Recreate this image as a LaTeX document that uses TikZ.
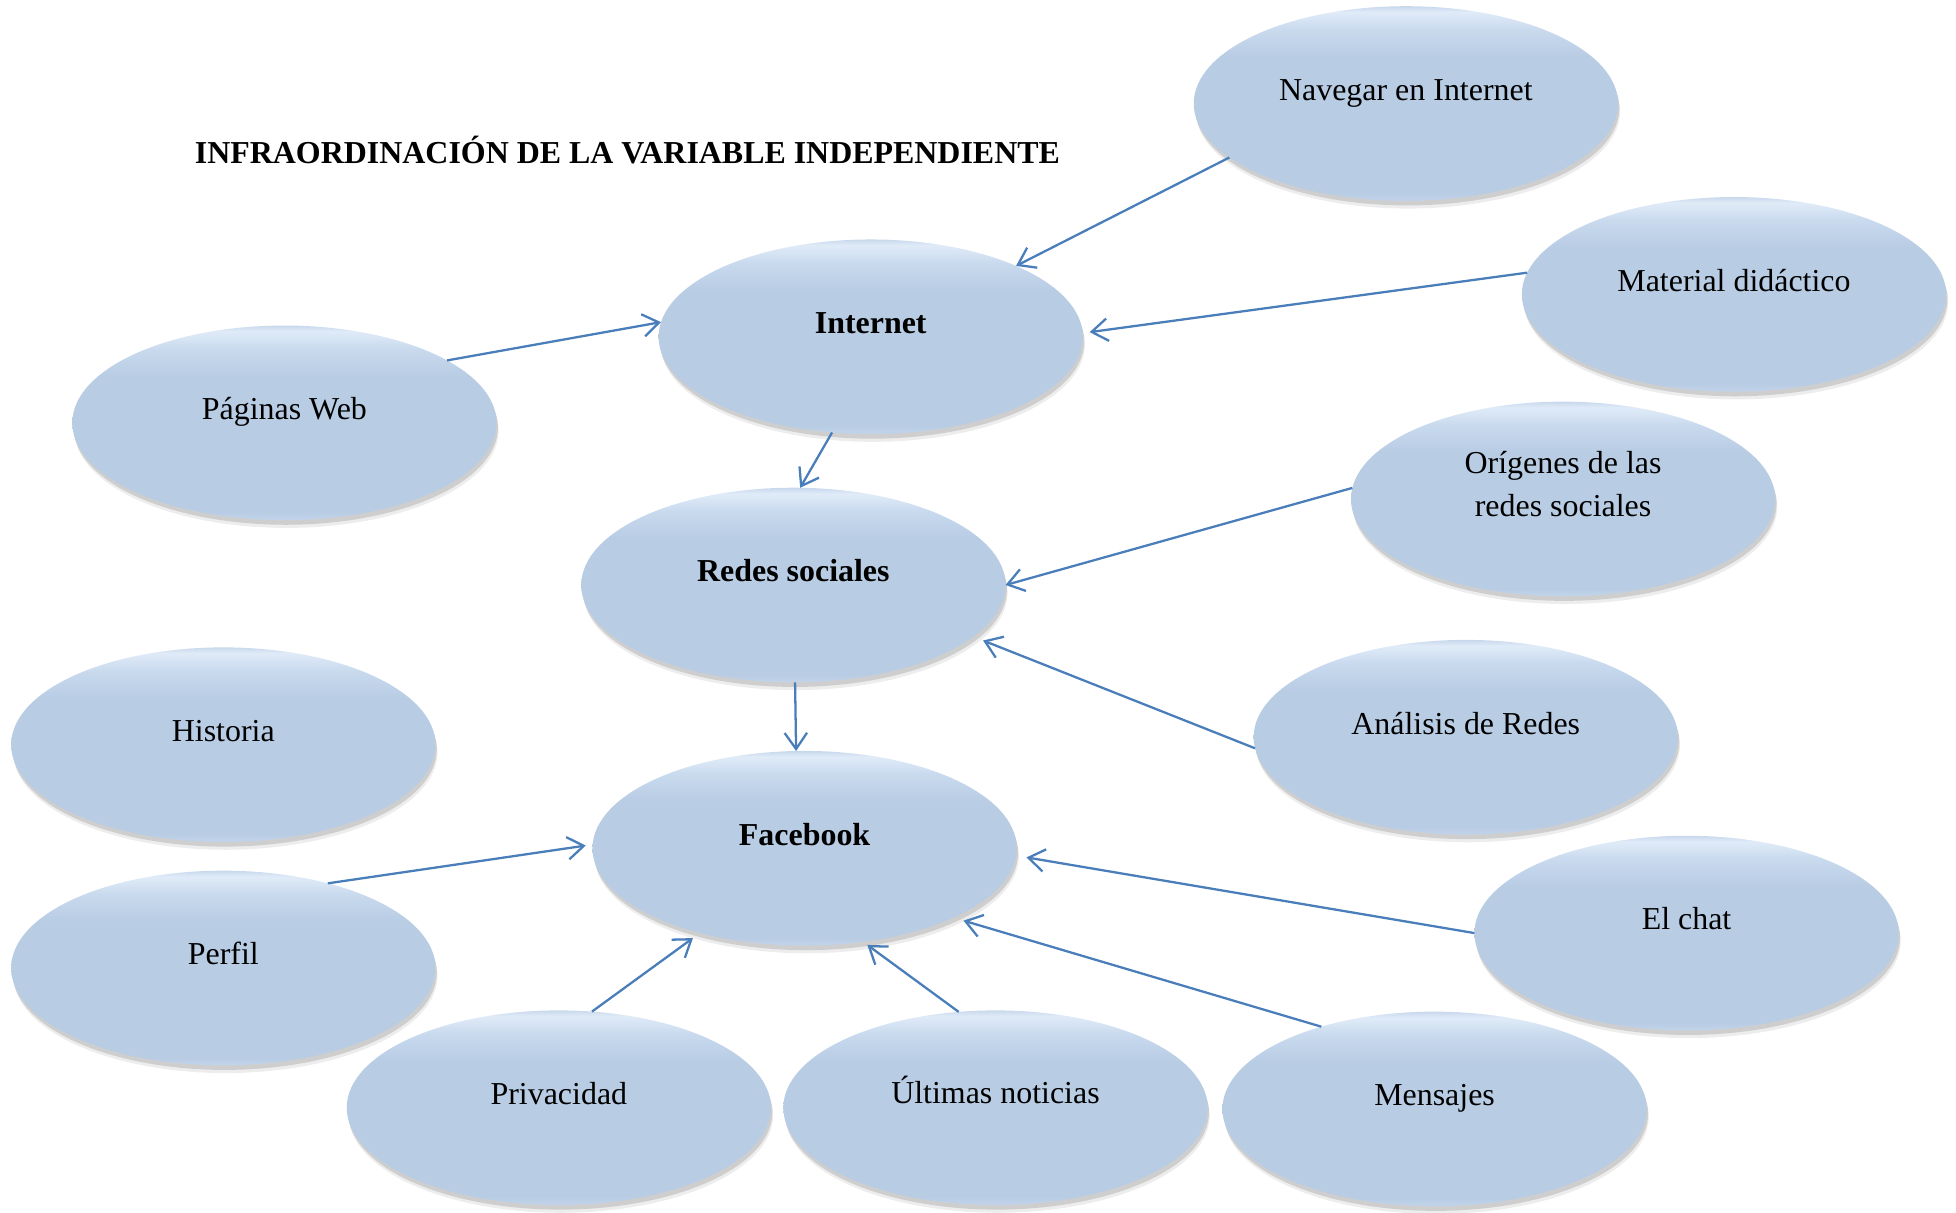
\documentclass[tikz,border=0pt]{standalone}
\usepackage{fontspec}
\setmainfont{Liberation Serif}
\usetikzlibrary{shapes.geometric,arrows.meta,shadows}
\definecolor{lineblue}{HTML}{4A7EBB}
\definecolor{elA}{HTML}{C2D4EA}
\definecolor{elB}{HTML}{B8CCE4}
\definecolor{elC}{HTML}{C9DAEE}
\definecolor{elD}{HTML}{E0EBF8}
\definecolor{elE}{HTML}{C8D8EC}
\pgfdeclareverticalshading{ellshade}{100bp}{color(0bp)=(elA); color(25bp)=(elA); color(27bp)=(elB); color(62bp)=(elB); color(69bp)=(elC); color(73.5bp)=(elD); color(75bp)=(elE); color(100bp)=(elE)}
\tikzset{
  ell/.style={ellipse, minimum width=4.25cm, minimum height=1.95cm, inner sep=0pt, outer sep=0pt,
    shading=ellshade,
    drop shadow={shadow xshift=0.6pt, shadow yshift=-2.2pt, opacity=0.07, fill=black},
    drop shadow={shadow xshift=0.4pt, shadow yshift=-1.3pt, opacity=0.13, fill=black}},
  lbl/.style={inner sep=0pt, text height=0.7em, text depth=0.2em, align=center},
  blbl/.style={lbl, font=\fontsize{9.1}{12.1}\selectfont\bfseries},
  conn/.style={draw=lineblue, line width=0.65pt, -{Straight Barb[length=4.6pt,width=6.4pt]}}
}
\begin{document}
\begin{tikzpicture}[x=0.0125cm, y=-0.0125cm, font=\fontsize{9.1}{12.1}\selectfont]
\useasboundingbox (0,0) rectangle (1568,972);
\node[ell] (nav) at (1127,83) {};
\node[ell] (int) at (698,270) {};
\node[ell] (mat) at (1390,236) {};
\node[ell] (pag) at (228,339) {};
\node[ell] (ori) at (1253,400) {};
\node[ell] (red) at (636,469) {};
\node[ell] (his) at (179,597) {};
\node[ell] (ana) at (1175,591) {};
\node[ell] (fb) at (645,680) {};
\node[ell] (chat) at (1352,748) {};
\node[ell] (per) at (179,776) {};
\node[ell] (pri) at (448,888) {};
\node[ell] (ult) at (798,888) {};
\node[ell] (men) at (1150,889) {};

\node[blbl] (title) at (503,124) {INFRAORDINACIÓN DE LA VARIABLE INDEPENDIENTE};

\node[lbl] (t-nav) at ([yshift=3.4pt]nav.center) {Navegar en Internet};
\node[blbl] (t-int) at ([yshift=3.4pt]int.center) {Internet};
\node[lbl] (t-mat) at ([yshift=3.4pt]mat.center) {Material didáctico};
\node[lbl] (t-pag) at ([yshift=3.4pt]pag.center) {Páginas Web};
\node[align=center, inner sep=0pt] (t-ori) at ([yshift=4.2pt]ori.center) {Orígenes de las\\redes sociales};
\node[blbl] (t-red) at ([yshift=3.4pt]red.center) {Redes sociales};
\node[lbl] (t-his) at ([yshift=3.4pt]his.center) {Historia};
\node[lbl] (t-ana) at ([yshift=3.4pt]ana.center) {Análisis de Redes};
\node[blbl] (t-fb) at ([yshift=3.4pt]fb.center) {Facebook};
\node[lbl] (t-chat) at ([yshift=3.4pt]chat.center) {El chat};
\node[lbl] (t-per) at ([yshift=3.4pt]per.center) {Perfil};
\node[lbl] (t-pri) at ([yshift=3.4pt]pri.center) {Privacidad};
\node[lbl] (t-ult) at ([yshift=3.6pt]ult.center) {Últimas noticias};
\node[lbl] (t-men) at ([yshift=3.4pt]men.center) {Mensajes};

\draw[conn] (nav.197) -- (int.26);
\draw[conn, shorten >=2pt] (mat.174) -- (int.1);
\draw[conn] (pag.21) -- (int.176);
\draw[conn] (int.248) -- (red.86);
\draw[conn] (ori.177) -- (red.0);
\draw[conn, shorten >=3pt] (ana.183) -- (red.344);
\draw[conn] (red.271) -- (fb.95);
\draw[conn, shorten >=2pt] (per.39) -- (fb.179);
\draw[conn, shorten >=3pt] (chat.180) -- (fb.358);
\draw[conn, shorten >=2.5pt] (pri.71) -- (fb.219);
\draw[conn, shorten >=1.5pt] (ult.111) -- (fb.302);
\draw[conn, shorten >=3pt] (men.144) -- (fb.335);
\end{tikzpicture}
\end{document}
